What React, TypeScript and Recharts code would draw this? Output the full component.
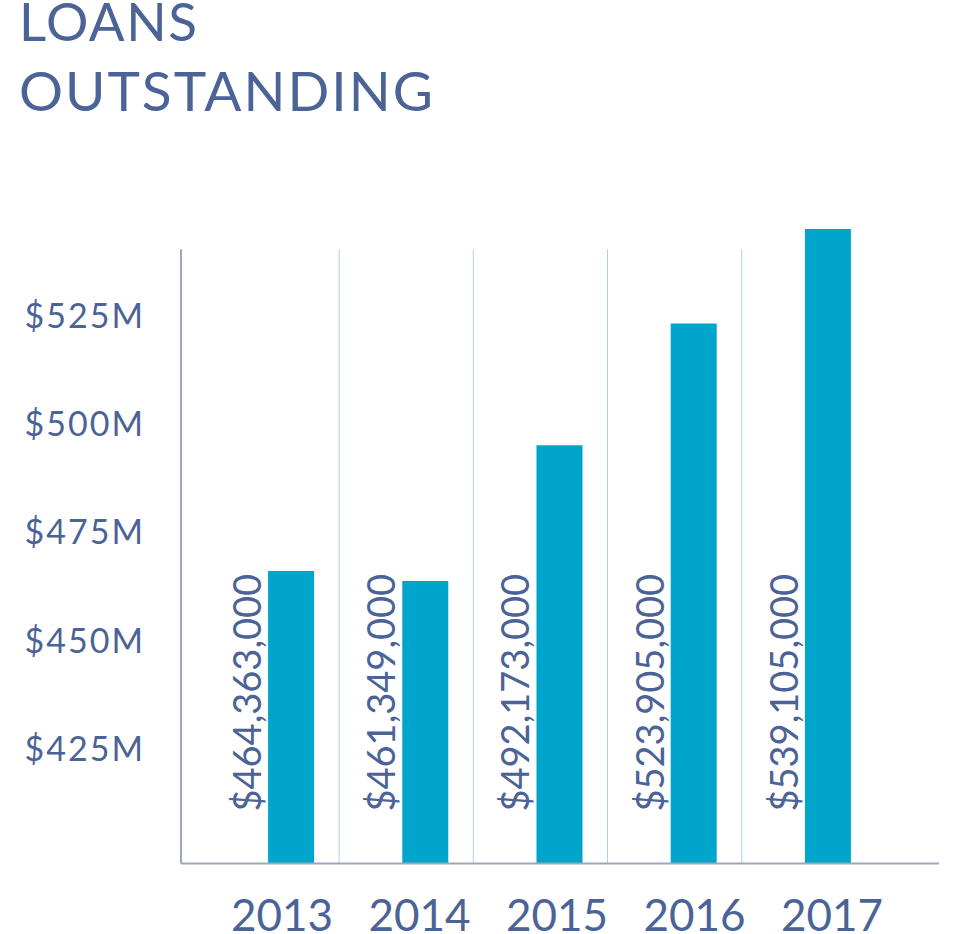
import { BarChart, Bar, XAxis, YAxis, ReferenceLine, LabelList } from "recharts";

// loans outstanding, in $M
const years = ["2013", "2014", "2015", "2016", "2017"];
const loansM = [466.1, 463.8, 495.1, 523.2, 545.0];
const loanLabels = ["$464,363,000", "$461,349,000", "$492,173,000", "$523,905,000", "$539,105,000"];
const yTicks = [425, 450, 475, 500, 525];

const INK = "#4b6396";
const BAR = "#00a5cb";
const AXIS = "#9ba6c1";
const SEP = "#a9d5e3";

const Y_MIN = 398.6;
const Y_MAX = 545.0;
const Y_LINE_TOP = 540.3;
const X_LO = -0.821;
const X_HI = 4.827;

const data = years.map((year, i) => ({ i, year, loans: loansM[i], label: loanLabels[i] }));

function LoanLabel(props: any) {
  const vb = props.viewBox ?? props;
  const x = Number(vb.x) - 7;
  const y = Number(vb.y) + Number(vb.height) - 52;
  return (
    <text x={x} y={y} transform={`rotate(-90 ${x} ${y})`} fill={INK}
          fontSize={38} fontFamily="Lato" textAnchor="start">
      {props.value}
    </text>
  );
}

export default function App() {
  return (
    <div style={{ position: "absolute", left: 0, top: 0, width: 960, height: 934, background: "#fff" }}>
      <BarChart
        width={960}
        height={934}
        data={data}
        margin={{ top: 229, right: 21, bottom: 0, left: 21 }}
        style={{ fontFamily: "Lato" }}
      >
        <XAxis xAxisId="bars" dataKey="i" type="number" domain={[X_LO, X_HI]} height={0} hide />
        <XAxis
          xAxisId="years"
          dataKey="i"
          type="number"
          domain={[-0.7345, 4.778]}
          ticks={[0, 1, 2, 3, 4]}
          tickFormatter={(v: number) => years[v]}
          height={70.5}
          axisLine={{ stroke: AXIS, strokeWidth: 2 }}
          tickLine={false}
          tickSize={0}
          tickMargin={36}
          tick={{ fontSize: 44, fill: INK, fontFamily: "Lato" }}
        />
        <YAxis
          type="number"
          domain={[Y_MIN, Y_MAX]}
          allowDataOverflow
          ticks={yTicks}
          tickFormatter={(v: number) => `$${v}M`}
          width={160}
          axisLine={false}
          tickLine={false}
          tickSize={0}
          tickMargin={36}
          tick={{ fontSize: 34, fill: INK, fontFamily: "Lato", letterSpacing: 2 }}
        />
        <ReferenceLine
          xAxisId="bars"
          ifOverflow="visible"
          segment={[{ x: X_LO, y: Y_MIN }, { x: X_LO, y: Y_LINE_TOP }]}
          stroke={AXIS}
          strokeWidth={2}
        />
        {[0, 1, 2, 3].map((k) => (
          <ReferenceLine
            key={k}
            xAxisId="bars"
            ifOverflow="visible"
            segment={[{ x: k + 0.357, y: Y_MIN }, { x: k + 0.357, y: Y_LINE_TOP }]}
            stroke={SEP}
            strokeWidth={1}
          />
        ))}
        <Bar xAxisId="bars" dataKey="loans" fill={BAR} barSize={46} isAnimationActive={false}>
          <LabelList dataKey="label" content={<LoanLabel />} />
        </Bar>
      </BarChart>
      <svg width={960} height={130} style={{ position: "absolute", left: 0, top: 0 }}>
        <text x={19} y={41} fontSize={53} fill={INK} fontFamily="Lato" letterSpacing={1.5}>LOANS</text>
        <text x={19} y={111} fontSize={55} fill={INK} fontFamily="Lato" letterSpacing={2}>OUTSTANDING</text>
      </svg>
    </div>
  );
}
